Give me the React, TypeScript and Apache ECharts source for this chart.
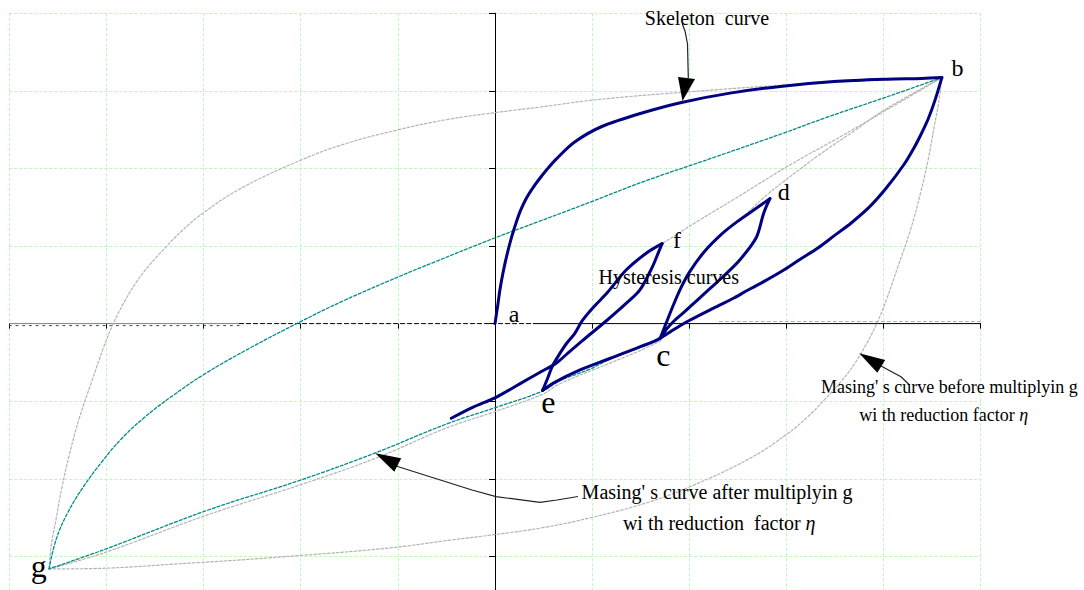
import React, { useEffect, useRef } from 'react';
import * as echarts from 'echarts';

// Axis extents (grid units)
const xRange = [-5, 5];
const yRange = [-4, 4];

// Skeleton curve a -> b
const skeletonAB = [[0, 0], [0.03, 0.25], [0.05, 0.43], [0.08, 0.64], [0.12, 0.87], [0.17, 1.11], [0.22, 1.31], [0.26, 1.45], [0.32, 1.61], [0.39, 1.75], [0.46, 1.87], [0.53, 1.98], [0.63, 2.12], [0.82, 2.34], [1.1, 2.54], [1.53, 2.72], [1.92, 2.85], [2.42, 2.97], [2.96, 3.06], [3.49, 3.12], [4.03, 3.15], [4.39, 3.16], [4.6, 3.17]];
// Hysteresis branches
const unloadBC = [[4.6, 3.17], [4.53, 2.88], [4.46, 2.64], [4.39, 2.45], [4.32, 2.28], [4.21, 2.05], [4.03, 1.75], [3.86, 1.51], [3.67, 1.3], [3.49, 1.13], [3.32, 0.97], [3.13, 0.82], [2.96, 0.68], [2.78, 0.55], [2.6, 0.43], [2.46, 0.33], [2.25, 0.2], [2.0, 0.04], [1.85, -0.07], [1.7, -0.19]];
const reloadCD = [[1.7, -0.19], [1.76, 0.0], [1.83, 0.22], [1.91, 0.45], [2.0, 0.66], [2.15, 0.92], [2.33, 1.15], [2.5, 1.32], [2.66, 1.46], [2.83, 1.61]];
const unloadDE = [[2.83, 1.61], [2.79, 1.5], [2.76, 1.4], [2.69, 1.11], [2.52, 0.82], [2.36, 0.62], [2.22, 0.46], [2.08, 0.3], [1.95, 0.15], [1.84, 0.03], [1.76, -0.08], [1.7, -0.19], [1.49, -0.3], [1.18, -0.45], [0.87, -0.6], [0.61, -0.76], [0.49, -0.86]];
const reloadEF = [[0.49, -0.86], [0.54, -0.71], [0.59, -0.55], [0.66, -0.4], [0.74, -0.25], [0.82, -0.13], [0.9, 0.04], [1.02, 0.22], [1.15, 0.39], [1.35, 0.69], [1.56, 0.91], [1.72, 1.03]];
const unloadFEnd = [[1.72, 1.03], [1.69, 0.94], [1.62, 0.73], [1.49, 0.43], [1.35, 0.26], [1.15, 0.04], [0.9, -0.22], [0.75, -0.38], [0.63, -0.51], [0.46, -0.63], [0.25, -0.78], [0.01, -0.95], [-0.23, -1.08], [-0.45, -1.22]];

// Masing's curve after multiplying with reduction factor (teal)
const reducedUp = [[-4.59, -3.16], [-4.52, -2.79], [-4.4, -2.44], [-4.23, -2.09], [-4.04, -1.77], [-3.85, -1.49], [-3.61, -1.21], [-3.33, -0.94], [-2.99, -0.65], [-2.53, -0.32], [-2.01, 0.02], [-1.55, 0.3], [-0.98, 0.61], [-0.63, 0.79], [-0.01, 1.1], [0.46, 1.32], [0.99, 1.57], [1.53, 1.83], [2.25, 2.14], [2.96, 2.45], [3.42, 2.66], [4.03, 2.92], [4.6, 3.17]];
const reducedDown = [[4.6, 3.17], [4.53, 2.88], [4.46, 2.64], [4.39, 2.45], [4.32, 2.28], [4.21, 2.05], [4.03, 1.75], [3.86, 1.51], [3.67, 1.3], [3.49, 1.13], [3.32, 0.97], [3.13, 0.82], [2.96, 0.68], [2.78, 0.55], [2.6, 0.43], [2.46, 0.33], [2.25, 0.2], [2.0, 0.04], [1.85, -0.08], [1.71, -0.19], [1.49, -0.31], [1.18, -0.46], [0.97, -0.59], [0.66, -0.74], [0.49, -0.87], [0.01, -1.08], [-0.49, -1.29], [-1.24, -1.67], [-2.01, -2.02], [-2.97, -2.41], [-4.04, -2.92], [-4.59, -3.16]];

// Masing's curve before multiplying (grey)
const masingUp = [[-4.59, -3.16], [-4.57, -2.87], [-4.52, -2.53], [-4.46, -2.12], [-4.38, -1.68], [-4.28, -1.22], [-4.15, -0.74], [-4.03, -0.31], [-3.93, 0.0], [-3.82, 0.27], [-3.7, 0.52], [-3.56, 0.75], [-3.4, 0.97], [-3.22, 1.2], [-3.01, 1.42], [-2.62, 1.74], [-2.01, 2.1], [-1.56, 2.31], [-0.99, 2.5], [-0.49, 2.63], [0.01, 2.72], [0.46, 2.79], [1.08, 2.89], [2.03, 2.99], [3.06, 3.08], [4.39, 3.16], [4.6, 3.17]];
const masingDown = [[4.6, 3.17], [4.57, 2.87], [4.52, 2.53], [4.46, 2.12], [4.38, 1.68], [4.28, 1.22], [4.15, 0.74], [4.03, 0.31], [3.93, 0.0], [3.82, -0.27], [3.7, -0.52], [3.56, -0.75], [3.4, -0.97], [3.22, -1.2], [3.01, -1.42], [2.62, -1.74], [2.01, -2.1], [1.56, -2.31], [0.99, -2.5], [0.49, -2.63], [-0.01, -2.72], [-0.46, -2.79], [-1.08, -2.89], [-2.03, -2.99], [-3.06, -3.08], [-4.39, -3.16], [-4.59, -3.16]];
const masingReloadC = [[1.7, -0.19], [1.76, 0.0], [1.83, 0.22], [1.91, 0.45], [2.0, 0.66], [2.15, 0.92], [2.33, 1.15], [2.5, 1.32], [2.66, 1.5], [2.8, 1.66], [2.96, 1.82], [3.13, 1.98], [3.32, 2.16], [3.67, 2.46], [4.03, 2.77], [4.6, 3.17]];
const masingReloadE = [[0.49, -0.86], [0.54, -0.71], [0.59, -0.55], [0.66, -0.4], [0.74, -0.25], [0.82, -0.13], [0.9, 0.04], [1.02, 0.22], [1.15, 0.39], [1.35, 0.69], [1.56, 0.91], [1.72, 1.03], [2.1, 1.33], [2.47, 1.61], [3.03, 2.04], [3.6, 2.44], [4.6, 3.17]];
const masingTrail = [[1.71, -0.22], [1.49, -0.35], [1.18, -0.51], [0.66, -0.78], [0.49, -0.91], [0.01, -1.13], [-0.49, -1.34], [-1.24, -1.74], [-2.01, -2.08], [-2.97, -2.47], [-4.04, -2.96], [-4.59, -3.16]];

// Horizontal axis line pieces
const axisGrayPart = [[-5, 0], [-2.63, 0]];
const axisDashedPart = [[-2.63, 0], [0.4, 0]];
const axisSolidPart = [[0.4, 0], [5, 0]];
const axisDotsLeft = [[-5, -0.026], [-2.63, -0.026]];
const axisGrayRight = [[2.31, 0.026], [5, 0.026]];

// Point labels
const pointLabels = ['a', 'b', 'c', 'd', 'e', 'f', 'g'];

const SERIF = '"Liberation Serif", "Times New Roman", serif';

export default function App() {
  const ref = useRef<HTMLDivElement>(null);
  useEffect(() => {
    document.body.style.margin = '0';
    document.body.style.overflow = 'hidden';
    const chart = echarts.init(ref.current!, null, { renderer: 'svg' });
    const navy = '#000080';
    const teal = '#008b8b';
    const grey = '#b4b4b4';
    const mk = (name: string, data: number[][], color: string, width: number, type: any, smooth = 0.4) => ({
      type: 'line', name, data, symbol: 'none', showSymbol: false, smooth, silent: true,
      lineStyle: { color, width, type, cap: 'round', join: 'round' }, clip: false,
    });
    const txt = (text: string, x: number, y: number, size: number, rich = false) => ({
      type: 'text', x, y, z: 100, silent: true,
      style: {
        text, fill: '#000', fontSize: size, fontFamily: SERIF,
        align: 'center', verticalAlign: 'middle', textAlign: 'center', textVerticalAlign: 'middle',
        rich: rich ? { i: { fontSize: size, fontFamily: SERIF, fontStyle: 'italic', fill: '#000' } } : undefined,
      },
    });
    const labelPos: Record<string, [number, number, number]> = {
      a: [514, 313.6, 24], b: [957.5, 67.9, 24], c: [663.3, 355.2, 32], d: [783.8, 191.9, 24],
      e: [548.3, 402.2, 32], f: [677, 240.2, 24], g: [38.8, 565.6, 32],
    };
    const arrowStroke = { stroke: '#222', lineWidth: 1.2, fill: null };
    chart.setOption({
      animation: false,
      backgroundColor: '#fff',
      grid: { left: 9.3, top: 13.2, width: 971.4, height: 620.8, containLabel: false, outerBoundsMode: 'none' },
      xAxis: {
        type: 'value', min: xRange[0], max: xRange[1], interval: 1,
        axisLine: { show: true, onZero: true, lineStyle: { color: 'rgba(0,0,0,0)' } },
        axisTick: { show: true, length: 5, lineStyle: { color: '#000', width: 1 } },
        axisLabel: { show: false },
        splitLine: { show: true, lineStyle: { color: '#bdf7bd', type: [3, 2], width: 1 } },
      },
      yAxis: {
        type: 'value', min: yRange[0], max: yRange[1], interval: 1,
        axisLine: { show: true, onZero: true, lineStyle: { color: '#000', width: 1 } },
        axisTick: { show: true, length: 6, lineStyle: { color: '#000', width: 1 } },
        axisLabel: { show: false },
        splitLine: { show: true, lineStyle: { color: '#bdf7bd', type: [3, 2], width: 1 } },
      },
      series: [
        mk('axisGray', axisGrayPart, '#808080', 1, 'solid', 0),
        mk('axisDots', axisDotsLeft, '#444', 1, [2, 4.7], 0),
        mk('axisDashed', axisDashedPart, '#000', 1, [4, 3], 0),
        mk('axisSolid', axisSolidPart, '#000', 1, 'solid', 0),
        mk('axisGreyRight', axisGrayRight, '#aaa', 1, [3, 3], 0),
        mk('masingUp', masingUp, grey, 1.2, [2.5, 2]),
        mk('masingDown', masingDown, grey, 1.2, [2.5, 2]),
        mk('masingReloadC', masingReloadC, grey, 1.2, [2.5, 2]),
        mk('masingReloadE', masingReloadE, grey, 1.2, [2.5, 2]),
        mk('masingTrail', masingTrail, grey, 1.2, [2.5, 2]),
        mk('reducedUp', reducedUp, teal, 1.3, [3, 2]),
        mk('reducedDown', reducedDown, teal, 1.3, [3, 2]),
        mk('skeletonAB', skeletonAB, navy, 3, 'solid', 0.3),
        mk('unloadBC', unloadBC, navy, 3, 'solid', 0.3),
        mk('reloadCD', reloadCD, navy, 3, 'solid', 0.3),
        mk('unloadDE', unloadDE, navy, 3, 'solid', 0.3),
        mk('reloadEF', reloadEF, navy, 3, 'solid', 0.3),
        mk('unloadFEnd', unloadFEnd, navy, 3, 'solid', 0.3),
      ],
      graphic: [
        // Skeleton curve arrow
        { type: 'polyline', z: 100, silent: true, shape: { points: [[682.3, 24], [685, 31], [687.5, 44], [688.3, 78]] }, style: arrowStroke },
        { type: 'polygon', z: 100, silent: true, shape: { points: [[678, 77], [695, 79], [682.5, 101]] }, style: { fill: '#000' } },
        // Masing after arrow
        { type: 'polyline', z: 100, silent: true, shape: { points: [[396, 466], [430, 476.7], [472, 490], [496, 496.7], [540, 502.3], [557, 500], [578, 496.5]] }, style: arrowStroke },
        { type: 'polygon', z: 100, silent: true, shape: { points: [[375.3, 453.3], [401.2, 458.3], [394.3, 471.7]] }, style: { fill: '#000' } },
        // Masing before arrow
        { type: 'polyline', z: 100, silent: true, shape: { points: [[881, 366], [901, 376.7], [909.5, 385]] }, style: arrowStroke },
        { type: 'polygon', z: 100, silent: true, shape: { points: [[859.2, 353.3], [885.2, 360], [877.3, 372.7]] }, style: { fill: '#000' } },
        txt('Skeleton  curve', 707, 18.3, 20),
        txt('Hysteresis curves', 668.7, 276.5, 20),
        txt("Masing' s curve after multiplyin g", 717, 491.5, 20),
        txt('wi th reduction  factor {i|η}', 719.2, 522.5, 20, true),
        txt("Masing' s curve before multiplyin g", 949.4, 387.2, 18),
        txt('wi th reduction factor {i|η}', 943.8, 414.6, 18, true),
        ...pointLabels.map((l) => txt(l, labelPos[l][0], labelPos[l][1], labelPos[l][2])),
      ],
    });
    return () => chart.dispose();
  }, []);
  return <div ref={ref} style={{ position: 'fixed', left: 0, top: 0, width: 1084, height: 640, background: '#fff' }} />;
}
